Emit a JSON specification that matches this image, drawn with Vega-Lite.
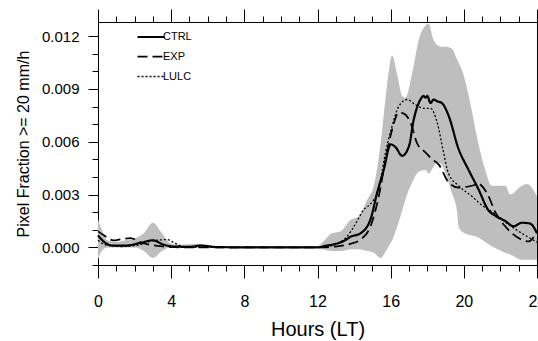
{
  "$schema": "https://vega.github.io/schema/vega-lite/v6.json",
  "width": 439,
  "height": 243,
  "autosize": {"type": "none"},
  "padding": {"left": 98, "top": 22, "right": 1, "bottom": 76},
  "background": "white",
  "config": {
    "view": {"stroke": "#000", "strokeWidth": 1},
    "axis": {"grid": false, "domain": false, "tickColor": "#000", "tickWidth": 1, "labelColor": "#000", "titleColor": "#000", "titleFontWeight": "normal", "labelOverlap": false, "labelBound": false, "labelFlush": false}
  },
  "datasets": {
    "band": [
      {"h": 0, "lo": -0.0007, "hi": 0.0016},
      {"h": 0.2, "lo": -0.0002, "hi": 0.001},
      {"h": 0.5, "lo": 0.0, "hi": 0.0004},
      {"h": 1.0, "lo": 0.0, "hi": 0.0003},
      {"h": 1.5, "lo": 0.0, "hi": 0.0004},
      {"h": 2.0, "lo": 0.0, "hi": 0.0005},
      {"h": 2.5, "lo": -0.0002, "hi": 0.0008},
      {"h": 3.0, "lo": -0.0006, "hi": 0.0014},
      {"h": 3.5, "lo": -0.0002, "hi": 0.0008},
      {"h": 4.0, "lo": 0.0, "hi": 0.0002},
      {"h": 4.5, "lo": 0.0, "hi": 0.00015},
      {"h": 5.5, "lo": 0.0, "hi": 0.0002},
      {"h": 6.5, "lo": 0.0, "hi": 0.00005},
      {"h": 8, "lo": 0.0, "hi": 0.00003},
      {"h": 12, "lo": 0.0, "hi": 0.00005},
      {"h": 12.3, "lo": -0.0001, "hi": 0.0003},
      {"h": 12.78, "lo": -0.0002, "hi": 0.0008},
      {"h": 13.25, "lo": -0.0002, "hi": 0.0009},
      {"h": 13.85, "lo": -0.0001, "hi": 0.0016},
      {"h": 14.2, "lo": -0.0001, "hi": 0.0017},
      {"h": 14.72, "lo": -0.0002, "hi": 0.0027},
      {"h": 15.08, "lo": -0.0003, "hi": 0.0035},
      {"h": 15.44, "lo": -0.0006, "hi": 0.0058},
      {"h": 15.8, "lo": -0.0001, "hi": 0.0092},
      {"h": 16.08, "lo": 0.0004, "hi": 0.0109},
      {"h": 16.36, "lo": 0.0012, "hi": 0.0098},
      {"h": 16.63, "lo": 0.0021, "hi": 0.0086},
      {"h": 16.8, "lo": 0.0027, "hi": 0.0085},
      {"h": 17.18, "lo": 0.0037, "hi": 0.0099},
      {"h": 17.54, "lo": 0.0043, "hi": 0.0118},
      {"h": 17.9, "lo": 0.0044, "hi": 0.0126},
      {"h": 18.08, "lo": 0.0042, "hi": 0.0127},
      {"h": 18.3, "lo": 0.0045, "hi": 0.0119},
      {"h": 18.54, "lo": 0.0048, "hi": 0.0115},
      {"h": 18.8, "lo": 0.0047, "hi": 0.0114},
      {"h": 19.0, "lo": 0.0042, "hi": 0.0114},
      {"h": 19.34, "lo": 0.0031, "hi": 0.0113},
      {"h": 19.62, "lo": 0.0021, "hi": 0.0107},
      {"h": 19.71, "lo": 0.0012, "hi": 0.0105},
      {"h": 19.89, "lo": 0.0009, "hi": 0.0101},
      {"h": 20.35, "lo": 0.0007, "hi": 0.0082},
      {"h": 20.71, "lo": 0.0006, "hi": 0.0063},
      {"h": 21.17, "lo": 0.0003, "hi": 0.0044},
      {"h": 21.53, "lo": 0.00006, "hi": 0.0035},
      {"h": 22.26, "lo": -0.0003, "hi": 0.0035},
      {"h": 22.54, "lo": -0.0004, "hi": 0.003},
      {"h": 23.17, "lo": -0.0007, "hi": 0.0035},
      {"h": 23.45, "lo": -0.0007, "hi": 0.0036},
      {"h": 24, "lo": -0.0007, "hi": 0.0029}
    ],
    "lines": [
      {"h": 0, "series": "CTRL", "v": 0.00068},
      {"h": 0.3, "series": "CTRL", "v": 0.00034},
      {"h": 0.8, "series": "CTRL", "v": 0.0001},
      {"h": 1.5, "series": "CTRL", "v": 0.0001},
      {"h": 2.3, "series": "CTRL", "v": 0.00025},
      {"h": 3.0, "series": "CTRL", "v": 0.0004},
      {"h": 3.6, "series": "CTRL", "v": 0.00015},
      {"h": 4.1, "series": "CTRL", "v": 0.00005},
      {"h": 5.0, "series": "CTRL", "v": 0.00003},
      {"h": 5.6, "series": "CTRL", "v": 0.0001},
      {"h": 6.5, "series": "CTRL", "v": 0.00002},
      {"h": 8, "series": "CTRL", "v": 0.0},
      {"h": 12, "series": "CTRL", "v": 0.0},
      {"h": 12.5, "series": "CTRL", "v": 0.0001},
      {"h": 13.0, "series": "CTRL", "v": 0.0002},
      {"h": 13.5, "series": "CTRL", "v": 0.0004},
      {"h": 13.8, "series": "CTRL", "v": 0.0006},
      {"h": 14.35, "series": "CTRL", "v": 0.0008},
      {"h": 14.9, "series": "CTRL", "v": 0.0016},
      {"h": 15.26, "series": "CTRL", "v": 0.0031},
      {"h": 15.62, "series": "CTRL", "v": 0.0044},
      {"h": 16.0, "series": "CTRL", "v": 0.00585},
      {"h": 16.26, "series": "CTRL", "v": 0.0057},
      {"h": 16.63, "series": "CTRL", "v": 0.0052},
      {"h": 17.0, "series": "CTRL", "v": 0.00575},
      {"h": 17.27, "series": "CTRL", "v": 0.0073},
      {"h": 17.63, "series": "CTRL", "v": 0.0084},
      {"h": 17.8, "series": "CTRL", "v": 0.0086},
      {"h": 17.9, "series": "CTRL", "v": 0.0085},
      {"h": 18.0, "series": "CTRL", "v": 0.0086},
      {"h": 18.18, "series": "CTRL", "v": 0.0082},
      {"h": 18.35, "series": "CTRL", "v": 0.0084},
      {"h": 18.54, "series": "CTRL", "v": 0.0083},
      {"h": 18.8, "series": "CTRL", "v": 0.0082},
      {"h": 19.16, "series": "CTRL", "v": 0.0075},
      {"h": 19.71, "series": "CTRL", "v": 0.0056},
      {"h": 20.26, "series": "CTRL", "v": 0.0044},
      {"h": 20.8, "series": "CTRL", "v": 0.0033},
      {"h": 21.35, "series": "CTRL", "v": 0.0021},
      {"h": 21.72, "series": "CTRL", "v": 0.0018},
      {"h": 22.26, "series": "CTRL", "v": 0.0015},
      {"h": 22.72, "series": "CTRL", "v": 0.0012},
      {"h": 23.17, "series": "CTRL", "v": 0.0014},
      {"h": 23.63, "series": "CTRL", "v": 0.00135},
      {"h": 24, "series": "CTRL", "v": 0.0008},
      {"h": 0, "series": "EXP", "v": 0.00091},
      {"h": 0.3, "series": "EXP", "v": 0.0007},
      {"h": 0.85, "series": "EXP", "v": 0.0004},
      {"h": 1.2, "series": "EXP", "v": 0.00045},
      {"h": 1.77, "series": "EXP", "v": 0.00053},
      {"h": 2.3, "series": "EXP", "v": 0.0003},
      {"h": 2.85, "series": "EXP", "v": 0.00015},
      {"h": 3.6, "series": "EXP", "v": 0.00005},
      {"h": 4.5, "series": "EXP", "v": 0.0},
      {"h": 8, "series": "EXP", "v": 0.0},
      {"h": 12, "series": "EXP", "v": 0.0},
      {"h": 13.0, "series": "EXP", "v": 0.00005},
      {"h": 13.8, "series": "EXP", "v": 0.0002},
      {"h": 14.35, "series": "EXP", "v": 0.00044},
      {"h": 14.9, "series": "EXP", "v": 0.0012},
      {"h": 15.35, "series": "EXP", "v": 0.0029},
      {"h": 15.72, "series": "EXP", "v": 0.005},
      {"h": 16.08, "series": "EXP", "v": 0.0067},
      {"h": 16.44, "series": "EXP", "v": 0.00765},
      {"h": 16.72, "series": "EXP", "v": 0.0076},
      {"h": 17.08, "series": "EXP", "v": 0.0071},
      {"h": 17.45, "series": "EXP", "v": 0.0059},
      {"h": 17.9, "series": "EXP", "v": 0.0054},
      {"h": 18.27, "series": "EXP", "v": 0.005},
      {"h": 18.63, "series": "EXP", "v": 0.0047},
      {"h": 19.16, "series": "EXP", "v": 0.0037},
      {"h": 19.71, "series": "EXP", "v": 0.0034},
      {"h": 20.44, "series": "EXP", "v": 0.0035},
      {"h": 20.8, "series": "EXP", "v": 0.0036},
      {"h": 21.35, "series": "EXP", "v": 0.0029},
      {"h": 21.72, "series": "EXP", "v": 0.002},
      {"h": 22.26, "series": "EXP", "v": 0.0012},
      {"h": 22.99, "series": "EXP", "v": 0.00053},
      {"h": 23.54, "series": "EXP", "v": 0.00034},
      {"h": 24, "series": "EXP", "v": 0.0009},
      {"h": 0, "series": "LULC", "v": 0.0004},
      {"h": 0.4, "series": "LULC", "v": 0.00015},
      {"h": 1.3, "series": "LULC", "v": 0.00005},
      {"h": 2.3, "series": "LULC", "v": 0.00015},
      {"h": 3.0, "series": "LULC", "v": 0.00038},
      {"h": 3.77, "series": "LULC", "v": 0.00044},
      {"h": 4.1, "series": "LULC", "v": 0.0003},
      {"h": 4.5, "series": "LULC", "v": 0.0001},
      {"h": 5.0, "series": "LULC", "v": 0.0},
      {"h": 8, "series": "LULC", "v": 0.0},
      {"h": 12, "series": "LULC", "v": 0.0},
      {"h": 12.8, "series": "LULC", "v": 0.0001},
      {"h": 13.25, "series": "LULC", "v": 0.0003},
      {"h": 13.6, "series": "LULC", "v": 0.0006},
      {"h": 14.0, "series": "LULC", "v": 0.0012},
      {"h": 14.5, "series": "LULC", "v": 0.0021},
      {"h": 15.0, "series": "LULC", "v": 0.0026},
      {"h": 15.35, "series": "LULC", "v": 0.0033},
      {"h": 15.72, "series": "LULC", "v": 0.0054},
      {"h": 16.08, "series": "LULC", "v": 0.0069},
      {"h": 16.44, "series": "LULC", "v": 0.008},
      {"h": 16.9, "series": "LULC", "v": 0.0084},
      {"h": 17.36, "series": "LULC", "v": 0.0081},
      {"h": 17.81, "series": "LULC", "v": 0.0079},
      {"h": 18.18, "series": "LULC", "v": 0.0079},
      {"h": 18.54, "series": "LULC", "v": 0.0071},
      {"h": 18.89, "series": "LULC", "v": 0.0054},
      {"h": 19.16, "series": "LULC", "v": 0.0042},
      {"h": 19.71, "series": "LULC", "v": 0.0035},
      {"h": 20.44, "series": "LULC", "v": 0.0029},
      {"h": 20.98, "series": "LULC", "v": 0.0024},
      {"h": 21.72, "series": "LULC", "v": 0.0019},
      {"h": 22.45, "series": "LULC", "v": 0.0013},
      {"h": 23.17, "series": "LULC", "v": 0.0008},
      {"h": 24, "series": "LULC", "v": 0.0003}
    ]
  },
  "layer": [
    {
      "data": {"name": "band"},
      "mark": {"type": "area", "color": "#bebebe", "interpolate": "monotone"},
      "encoding": {
        "x": {
          "field": "h", "type": "quantitative",
          "scale": {"domain": [0, 24], "nice": false, "zero": false},
          "axis": {
            "orient": "bottom",
            "values": [0,1,2,3,4,5,6,7,8,9,10,11,12,13,14,15,16,17,18,19,20,21,22,23,24],
            "tickSize": {"condition": {"test": "datum.value % 4 === 0", "value": 13}, "value": 6},
            "labelExpr": "datum.value % 4 === 0 ? datum.label : ''",
            "labelFont": "Liberation Sans",
            "labelFontSize": 16,
            "labelPadding": 15,
            "title": "Hours (LT)",
            "titleFont": "Liberation Sans",
            "titleFontSize": 20,
            "titlePadding": 10
          }
        },
        "y": {
          "field": "lo", "type": "quantitative",
          "scale": {"domain": [-0.001, 0.0128], "nice": false, "zero": false},
          "axis": {
            "orient": "left",
            "values": [-0.001,0,0.001,0.002,0.003,0.004,0.005,0.006,0.007,0.008,0.009,0.01,0.011,0.012],
            "tickSize": {"condition": {"test": "abs(round(datum.value*1000) % 3) === 0", "value": 10}, "value": 6},
            "labelExpr": "abs(round(datum.value*1000) % 3) === 0 ? format(datum.value, '.3f') : ''",
            "labelFont": "Liberation Sans",
            "labelFontSize": 15,
            "labelPadding": 9,
            "title": "Pixel Fraction >= 20 mm/h",
            "titleFont": "Liberation Sans",
            "titleFontSize": 16,
            "titlePadding": 10
          }
        },
        "y2": {"field": "hi"}
      }
    },
    {
      "data": {"name": "lines"},
      "mark": {"type": "line", "color": "#000", "interpolate": "monotone"},
      "encoding": {
        "x": {
          "field": "h", "type": "quantitative",
          "axis": {
            "orient": "top",
            "values": [0,1,2,3,4,5,6,7,8,9,10,11,12,13,14,15,16,17,18,19,20,21,22,23,24],
            "tickSize": {"condition": {"test": "datum.value % 4 === 0", "value": 13}, "value": 6},
            "labels": false,
            "title": null
          }
        },
        "y": {"field": "v", "type": "quantitative", "axis": null},
        "strokeDash": {
          "field": "series", "type": "nominal",
          "scale": {"domain": ["CTRL", "EXP", "LULC"], "range": [[1, 0], [10, 5], [2, 2]]},
          "legend": {
            "orient": "none", "legendX": 38, "legendY": 0,
            "title": null, "padding": 0,
            "symbolType": "stroke", "symbolSize": 729, "symbolStrokeColor": "#000",
            "labelFont": "Liberation Sans", "labelFontSize": 11, "labelOffset": -3,
            "rowPadding": -11
          }
        },
        "strokeWidth": {
          "field": "series", "type": "nominal",
          "scale": {"domain": ["CTRL", "EXP", "LULC"], "range": [2.2, 1.3, 1.3]}
        }
      }
    }
  ],
  "resolve": {"axis": {"x": "independent", "y": "independent"}}
}
